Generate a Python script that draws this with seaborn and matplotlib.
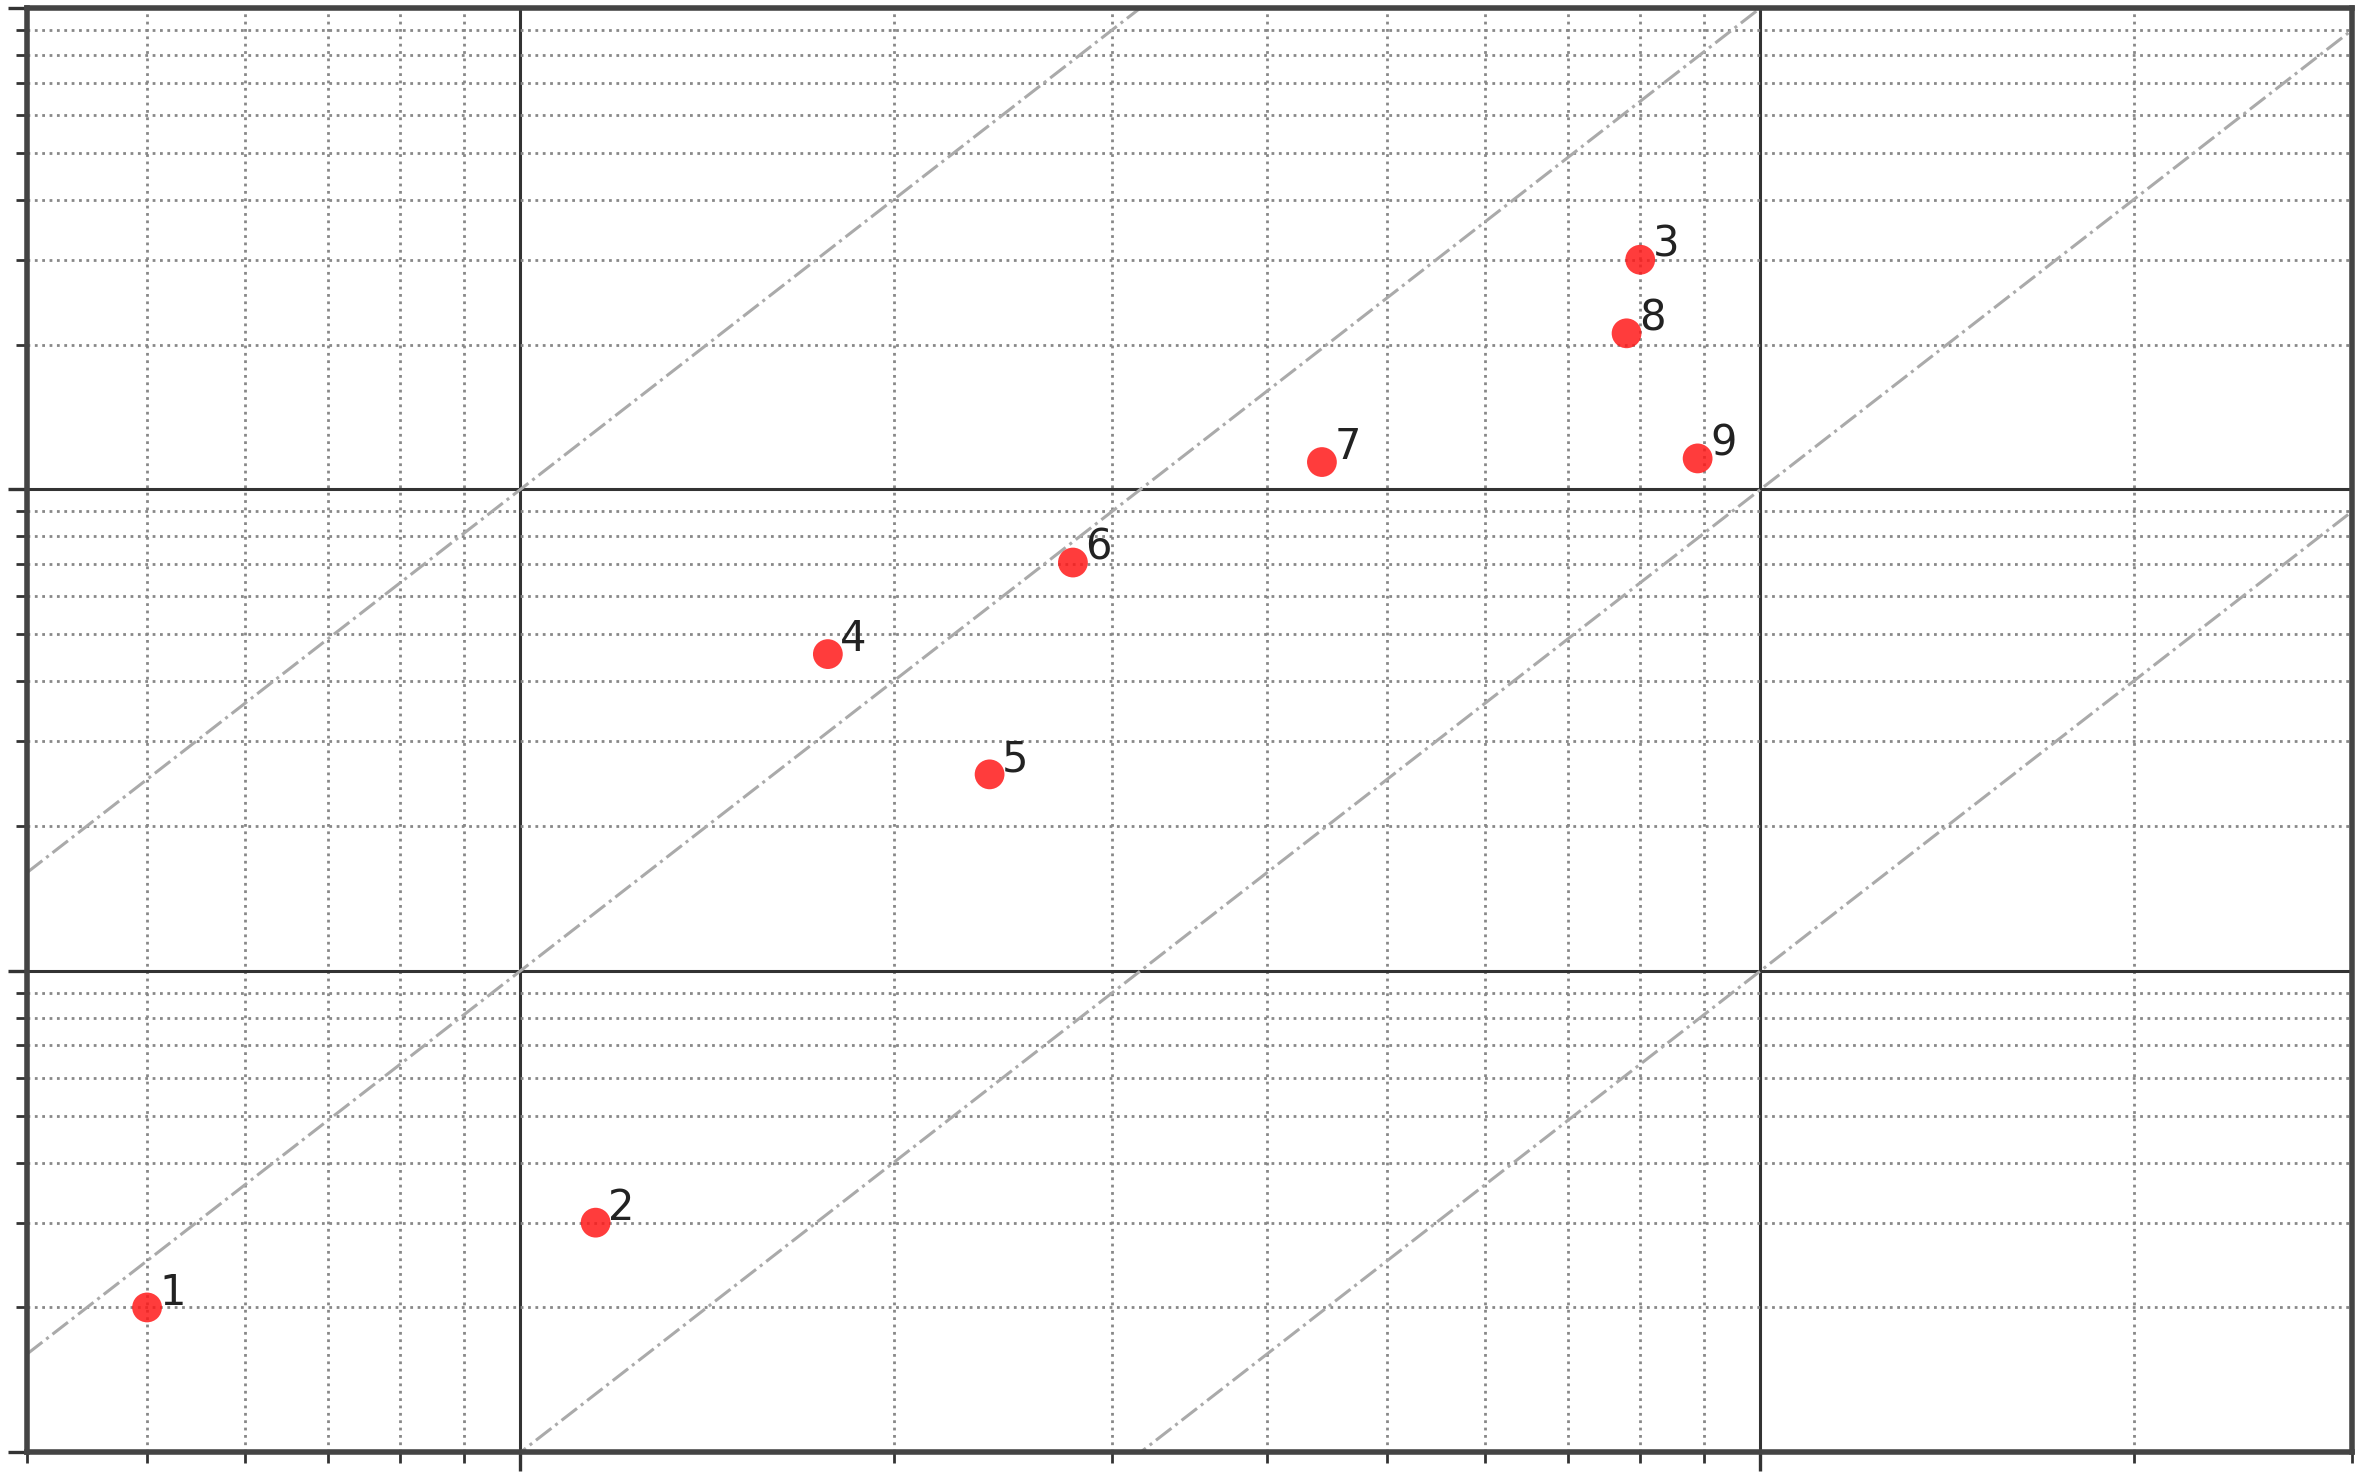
import numpy as np
import matplotlib
matplotlib.use("Agg")
import matplotlib.pyplot as plt
import seaborn as sns
import pandas as pd

# point data (log-log axes, no tick labels)
labels = ["1", "2", "3", "4", "5", "6", "7", "8", "9"]
x_vals = [0.5, 1.15, 8.0, 1.77, 2.39, 2.79, 4.43, 7.8, 8.9]
y_vals = [0.2, 0.3, 30.0, 4.55, 2.56, 7.05, 11.4, 21.1, 11.6]

# guide lines y = c * x^2
guide_consts = [10, 1, 0.1, 0.01]
x_limits = [0.4, 30]
y_limits = [0.1, 100]

df = pd.DataFrame({"x": x_vals, "y": y_vals, "label": labels})

sns.set_style("white")
fig, ax = plt.subplots(figsize=(11.805, 7.395), dpi=200)
fig.subplots_adjust(left=0.0114, right=0.9962, bottom=0.018, top=0.9946)

ax.set_xscale("log")
ax.set_yscale("log")
ax.set_xlim(*x_limits)
ax.set_ylim(*y_limits)

# grid
ax.grid(True, which="major", color="#333333", linestyle="-", linewidth=1.1)
ax.grid(True, which="minor", color="#888888", linestyle=":", linewidth=1.0)
ax.set_axisbelow(True)

# slope-2 guide lines
xs = np.array(x_limits, dtype=float)
for c in guide_consts:
    ax.plot(xs, c * xs ** 2, color="#aaaaaa", linestyle="-.", linewidth=1.1, zorder=1)

sns.scatterplot(data=df, x="x", y="y", color="#ff1a1a", alpha=0.85, s=115,
                edgecolor="none", ax=ax, zorder=3)

for _, row in df.iterrows():
    ax.annotate(row["label"], (row["x"], row["y"]), xytext=(4.5, 1),
                textcoords="offset points", ha="left", va="baseline",
                fontsize=15, color="#222222")

ax.set_xlabel("")
ax.set_ylabel("")
ax.tick_params(which="both", direction="out", labelbottom=False, labelleft=False,
               bottom=True, left=True, color="#333333")
ax.tick_params(which="major", length=7, width=1.2)
ax.tick_params(which="minor", length=4, width=1.0)
for sp in ax.spines.values():
    sp.set_color("#444444")
    sp.set_linewidth(2.0)

fig.savefig("out.png", dpi=200)
